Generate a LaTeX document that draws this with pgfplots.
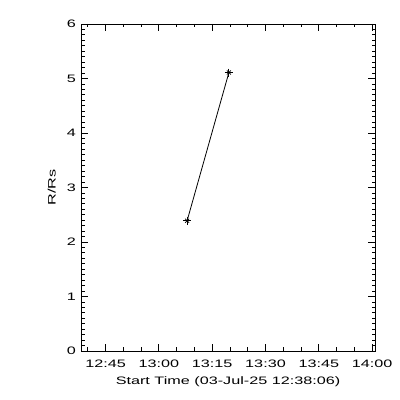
\documentclass[border=0pt]{standalone}
\usepackage{fontspec}
\setmainfont{Liberation Sans}[FakeStretch=1.5]
\usepackage{pgfplots}
\pgfplotsset{compat=1.18}
\begin{document}
\begin{tikzpicture}[font=\fontsize{10.8bp}{12bp}\selectfont]
\path[use as bounding box] (0,0) rectangle (400bp,400bp);
\begin{axis}[
  at={(81bp,49bp)}, anchor=south west,
  scale only axis, width=294bp, height=327bp,
  xmin=38.1, xmax=120.8, ymin=0, ymax=6,
  axis line style={line width=0.9bp},
  every tick/.style={black, line width=0.8bp},
  tick align=inside,
  major tick length=7bp, minor tick length=3.5bp,
  xtick={45,60,75,90,105,120},
  xticklabels={12:45,13:00,13:15,13:30,13:45,14:00},
  minor xtick={40,50,55,65,70,80,85,95,100,110,115},
  ytick={0,1,2,3,4,5,6},
  minor y tick num=9,
  /pgf/number format/assume math mode=true,
  xticklabel style={anchor=north, inner sep=0pt, yshift=-9bp},
  yticklabel style={anchor=east, inner sep=0pt, xshift=-5bp},
  xlabel={Start Time (03-Jul-25 12:38:06)},
  ylabel={R/Rs},
  xlabel style={at={(axis description cs:0.5,-0.0765)}, anchor=north, inner sep=0pt},
  ylabel style={at={(axis description cs:-0.085,0.5)}, anchor=south, inner sep=0pt},
]
\addplot[black, line width=0.8bp, mark=x, mark size=2.8bp, mark options={line width=0.8bp}] coordinates {(67.95,2.39) (79.7,5.11)};
\addplot[black, only marks, mark=+, mark size=4bp, mark options={line width=0.8bp}] coordinates {(67.95,2.39) (79.7,5.11)};
\end{axis}
\end{tikzpicture}
\end{document}
